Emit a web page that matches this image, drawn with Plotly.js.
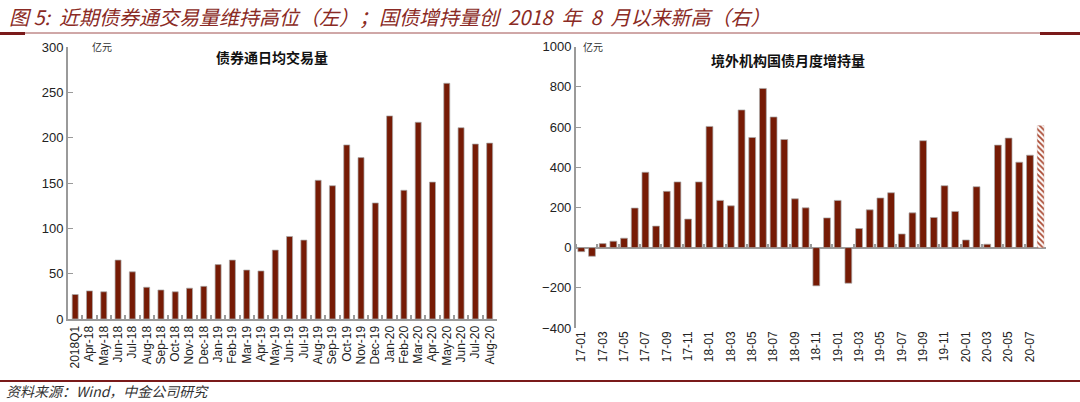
<!DOCTYPE html>
<html>
<head>
<meta charset="utf-8">
<script src="https://cdn.plot.ly/plotly-3.0.1.min.js"></script>
<style>
  html, body { margin: 0; padding: 0; background: #fff; }
  #chart { width: 1080px; height: 402px; }
</style>
</head>
<body>
<div id="chart"></div>
<script>
// left: daily average Bond Connect turnover (亿元)
var leftMonths = ['2018Q1', 'Apr-18', 'May-18', 'Jun-18', 'Jul-18', 'Aug-18', 'Sep-18', 'Oct-18',
  'Nov-18', 'Dec-18', 'Jan-19', 'Feb-19', 'Mar-19', 'Apr-19', 'May-19', 'Jun-19', 'Jul-19',
  'Aug-19', 'Sep-19', 'Oct-19', 'Nov-19', 'Dec-19', 'Jan-20', 'Feb-20', 'Mar-20', 'Apr-20',
  'May-20', 'Jun-20', 'Jul-20', 'Aug-20'];
var leftValues = [27, 31, 30, 65, 52, 35, 32, 30, 34, 36, 60, 65, 54, 53, 76, 91, 87,
  153, 147, 192, 178, 128, 224, 142, 217, 151, 260, 211, 193, 194];

// right: monthly net increase of foreign holdings of CGBs (亿元)
var rightMonths = ['17-01', '17-02', '17-03', '17-04', '17-05', '17-06', '17-07', '17-08',
  '17-09', '17-10', '17-11', '17-12', '18-01', '18-02', '18-03', '18-04', '18-05', '18-06',
  '18-07', '18-08', '18-09', '18-10', '18-11', '18-12', '19-01', '19-02', '19-03', '19-04',
  '19-05', '19-06', '19-07', '19-08', '19-09', '19-10', '19-11', '19-12', '20-01', '20-02',
  '20-03', '20-04', '20-05', '20-06', '20-07'];
var rightValues = [-20, -43, 20, 32, 47, 197, 375, 107, 280, 327, 142, 327, 603, 235, 208,
  685, 548, 792, 650, 538, 243, 198, -190, 148, 235, -177, 95, 188, 247, 273, 68, 173, 532,
  150, 308, 180, 38, 303, 17, 510, 545, 425, 460];
// latest month, still an estimate (hatched bar)
var estMonths = ['20-08'];
var estValues = [607];
var allRightMonths = rightMonths.concat(estMonths);

var barRed = '#761b05';
var axisGrey = '#9a9a9a';
var tickFont = { family: 'Liberation Sans, Arial, sans-serif', size: 13, color: '#222' };
var cjk = 'Noto Sans CJK SC, sans-serif';
var barEdge = { color: 'rgba(170,170,170,0.9)', width: 0.8 };

var data = [{
  type: 'bar',
  x: leftMonths,
  y: leftValues,
  xaxis: 'x',
  yaxis: 'y',
  width: 0.42,
  marker: { color: barRed, line: barEdge }
}, {
  type: 'bar',
  x: rightMonths,
  y: rightValues,
  xaxis: 'x2',
  yaxis: 'y2',
  width: 0.64,
  marker: { color: barRed, line: barEdge }
}, {
  type: 'bar',
  x: estMonths,
  y: estValues,
  xaxis: 'x3',
  yaxis: 'y2',
  width: 0.64,
  marker: {
    color: '#ffffff',
    line: { color: 'rgba(200,160,150,0.6)', width: 0.5 },
    pattern: { shape: '\\', fgcolor: '#a8462e', bgcolor: '#ffffff', size: 4, solidity: 0.45, fillmode: 'replace' }
  }
}];

var zeroPos = 0.184 + (0 - (-400)) / 1400 * (0.884 - 0.184);

var layout = {
  width: 1080,
  height: 402,
  margin: { l: 0, r: 0, t: 0, b: 0 },
  paper_bgcolor: '#fff',
  plot_bgcolor: '#fff',
  showlegend: false,
  barmode: 'overlay',
  xaxis: {
    domain: [0.063, 0.460],
    type: 'category',
    tickangle: -90,
    tickfont: { family: 'Liberation Sans, Arial, sans-serif', size: 12, color: '#222' },
    showline: true, linecolor: axisGrey, linewidth: 2,
    ticks: 'inside', tickson: 'boundaries', ticklen: 4, tickcolor: axisGrey, tickwidth: 2,
    showgrid: false, zeroline: false, fixedrange: true
  },
  yaxis: {
    domain: [0.2065, 0.883],
    range: [0, 300],
    dtick: 50,
    tickfont: tickFont,
    showline: true, linecolor: axisGrey, linewidth: 2,
    ticks: 'inside', ticklen: 5, tickcolor: axisGrey,
    showgrid: false, zeroline: false, fixedrange: true
  },
  xaxis2: {
    domain: [0.5333, 0.9685],
    anchor: 'y2',
    type: 'category',
    categoryorder: 'array',
    categoryarray: allRightMonths,
    range: [-0.5, allRightMonths.length - 0.5],
    tick0: 0, dtick: 2,
    tickangle: -90,
    tickfont: { family: 'Liberation Sans, Arial, sans-serif', size: 12, color: '#222' },
    showline: false, ticks: '',
    showgrid: false, zeroline: false, fixedrange: true
  },
  // ticks sitting on the zero line of the right chart
  xaxis3: {
    domain: [0.5333, 0.9685],
    overlaying: 'x2',
    anchor: 'free',
    position: zeroPos,
    side: 'top',
    type: 'category',
    categoryorder: 'array',
    categoryarray: allRightMonths,
    range: [-0.5, allRightMonths.length - 0.5],
    tick0: 0, dtick: 2,
    tickson: 'boundaries',
    ticks: 'outside', ticklen: 4, tickwidth: 2, tickcolor: axisGrey,
    showticklabels: false, showline: false,
    showgrid: false, zeroline: false, fixedrange: true
  },
  yaxis2: {
    domain: [0.184, 0.884],
    anchor: 'x2',
    range: [-400, 1000],
    dtick: 200,
    tickfont: tickFont,
    showline: true, linecolor: axisGrey, linewidth: 2,
    ticks: 'inside', ticklen: 5, tickcolor: axisGrey,
    showgrid: false,
    zeroline: true, zerolinecolor: axisGrey, zerolinewidth: 2,
    fixedrange: true
  },
  shapes: [
    // rule under the figure title
    { type: 'line', xref: 'paper', yref: 'paper', x0: 0, x1: 1, y0: 1 - 33 / 402, y1: 1 - 33 / 402,
      line: { color: '#a05050', width: 1 } },
    { type: 'line', xref: 'paper', yref: 'paper', x0: 0, x1: 25 / 1080, y0: 1 - 33.5 / 402, y1: 1 - 33.5 / 402,
      line: { color: '#7a1a1a', width: 3 } },
    { type: 'line', xref: 'paper', yref: 'paper', x0: 1040 / 1080, x1: 1, y0: 1 - 33.5 / 402, y1: 1 - 33.5 / 402,
      line: { color: '#7a1a1a', width: 3 } },
    // rule above the source line
    { type: 'line', xref: 'paper', yref: 'paper', x0: 0, x1: 1, y0: 1 - 381 / 402, y1: 1 - 381 / 402,
      line: { color: '#7a1a1a', width: 2 } }
  ],
  annotations: [
    { xref: 'paper', yref: 'paper', x: 7 / 1080, y: 1 - 16 / 402, xanchor: 'left', yanchor: 'middle',
      showarrow: false,
      text: '<i>图 5:  近期债券通交易量维持高位（左）；国债增持量创&nbsp;&nbsp;2018&nbsp;&nbsp;年&nbsp;&nbsp;8&nbsp;&nbsp;月以来新高（右）</i>',
      font: { family: cjk, size: 20, color: '#8a2a24' } },
    { xref: 'paper', yref: 'paper', x: 4 / 1080, y: 1 - 391 / 402, xanchor: 'left', yanchor: 'middle',
      showarrow: false,
      text: '<i>资料来源：Wind，中金公司研究</i>',
      font: { family: cjk, size: 14, color: '#333' } },
    { xref: 'paper', yref: 'paper', x: 90 / 1080, y: 1 - 47 / 402, xanchor: 'left', yanchor: 'middle',
      showarrow: false, text: '亿元', font: { family: cjk, size: 10, color: '#333' } },
    { xref: 'paper', yref: 'paper', x: 272 / 1080, y: 1 - 57 / 402, xanchor: 'center', yanchor: 'middle',
      showarrow: false, text: '<b>债券通日均交易量</b>', font: { family: cjk, size: 14, color: '#111' } },
    { xref: 'paper', yref: 'paper', x: 581 / 1080, y: 1 - 47 / 402, xanchor: 'left', yanchor: 'middle',
      showarrow: false, text: '亿元', font: { family: cjk, size: 10, color: '#333' } },
    { xref: 'paper', yref: 'paper', x: 788 / 1080, y: 1 - 60 / 402, xanchor: 'center', yanchor: 'middle',
      showarrow: false, text: '<b>境外机构国债月度增持量</b>', font: { family: cjk, size: 14, color: '#111' } }
  ]
};

Plotly.newPlot('chart', data, layout, { displayModeBar: false, staticPlot: true });
</script>
</body>
</html>
